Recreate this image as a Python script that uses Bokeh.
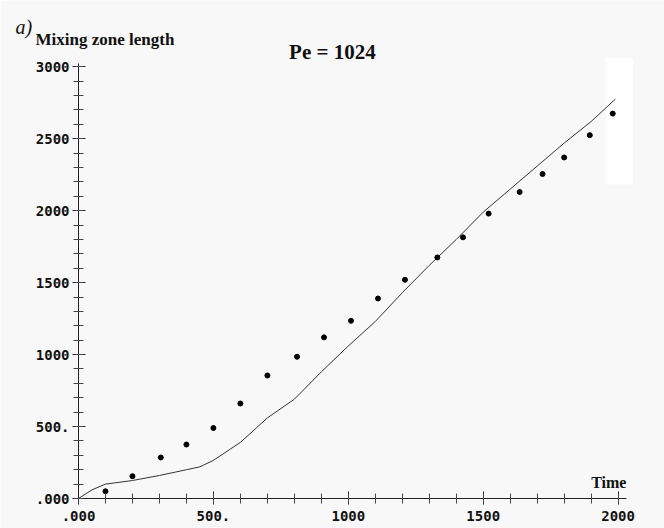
from bokeh.plotting import figure
from bokeh.models import FixedTicker, Range1d, Label, Title, BoxAnnotation
from bokeh.embed import file_html
from bokeh.resources import INLINE

# Simulation (solid line)
line_time = [0, 50, 100, 200, 300, 400, 450, 500, 600, 700, 800, 900, 1000, 1100,
             1200, 1300, 1400, 1500, 1600, 1700, 1800, 1900, 1990]
line_len = [0, 60, 100, 125, 160, 200, 220, 265, 390, 560, 690, 880, 1060, 1230,
            1430, 1620, 1800, 1990, 2150, 2310, 2470, 2620, 2776]

# Measured points (dots)
dot_time = [100, 200, 305, 400, 500, 600, 700, 810, 910, 1010, 1110, 1210, 1330,
            1425, 1520, 1635, 1720, 1800, 1895, 1980]
dot_len = [50, 155, 285, 375, 490, 660, 855, 985, 1120, 1235, 1390, 1520, 1675,
           1815, 1980, 2130, 2255, 2370, 2525, 2675]

x_ticks = [0, 500, 1000, 1500, 2000]
x_tick_labels = [".000", "500.", "1000", "1500", "2000"]
y_ticks = [0, 500, 1000, 1500, 2000, 2500, 3000]
y_tick_labels = [".000", "500.", "1000", "1500", "2000", "2500", "3000"]

W, H = 664, 528
p = figure(width=W, height=H, output_backend="svg", toolbar_location=None, title=None,
           x_range=Range1d(0, 2120), y_range=Range1d(0, 3169),
           min_border_left=78, min_border_right=14, min_border_top=42,
           min_border_bottom=30)
p.background_fill_color = "#f8f8f8"
p.border_fill_color = "#f8f8f8"
p.outline_line_color = None
p.grid.visible = False

mono = "DejaVu Sans Mono"
for ax, ticks, labels, bounds in ((p.xaxis[0], x_ticks, x_tick_labels, (0, 2030)),
                                  (p.yaxis[0], y_ticks, y_tick_labels, (0, 3025))):
    ax.ticker = FixedTicker(ticks=ticks, minor_ticks=list(range(0, bounds[1], 100)))
    ax.major_label_overrides = {t: l for t, l in zip(ticks, labels)}
    ax.bounds = bounds
    ax.axis_line_color = "#222222"
    ax.major_tick_line_color = "#222222"
    ax.minor_tick_line_color = "#444444"
    ax.major_tick_in = 7
    ax.major_tick_out = 6
    ax.minor_tick_in = 5
    ax.minor_tick_out = 5
    ax.major_label_text_font = mono
    ax.major_label_text_font_style = "bold"
    ax.major_label_text_font_size = "14px"
    ax.major_label_text_color = "#111111"
p.xaxis.major_label_standoff = 6
p.yaxis.major_label_standoff = 3

# faint white scan patch at upper right
p.add_layout(BoxAnnotation(left=1955, right=2055, top=3060, bottom=2180,
                           fill_color="white", fill_alpha=1.0, line_color=None,
                           level="underlay"))

p.line(line_time, line_len, line_color="#333333", line_width=1)
p.scatter(dot_time, dot_len, size=5, fill_color="black", line_color="black")

serif = "Liberation Serif"
p.add_layout(Title(text="Mixing zone length", align="left", offset=-43, standoff=-12,
                   text_font=serif, text_font_style="bold", text_font_size="17px",
                   text_color="#111111"), "above")
p.add_layout(Title(text="a)", align="left", offset=-63, standoff=-9,
                   text_font=serif, text_font_style="italic", text_font_size="20px",
                   text_color="#111111"), "above")
p.add_layout(Label(x=941, y=3100, text="Pe = 1024", text_font=serif, text_align="center",
                   text_baseline="alphabetic", text_font_style="bold",
                   text_font_size="21px", text_color="#111111"))
p.add_layout(Label(x=1900, y=111, text="Time", text_font=serif, text_baseline="alphabetic",
                   text_font_style="bold", text_font_size="16px", text_color="#111111"))

open("out.html", "w").write(file_html(p, INLINE))
